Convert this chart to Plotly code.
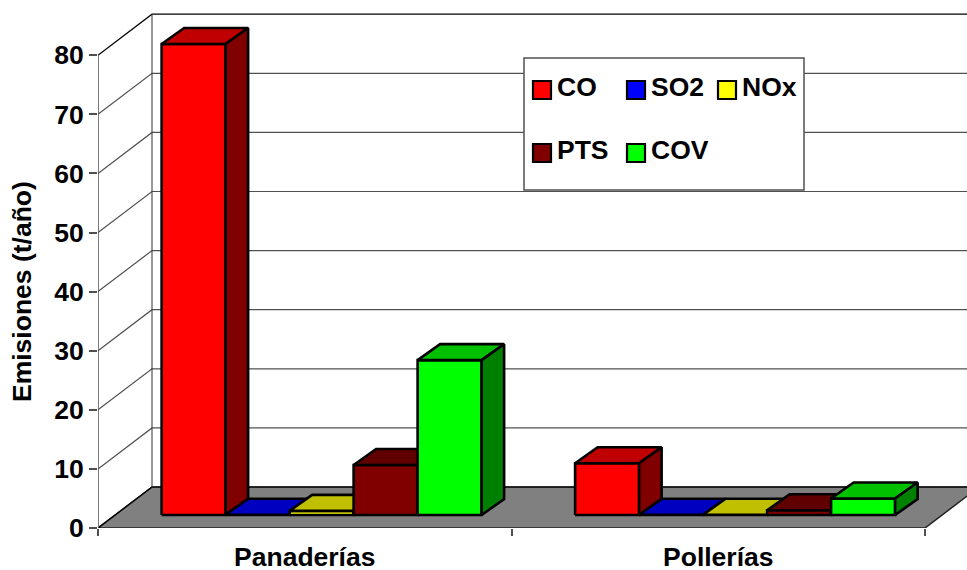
import plotly.graph_objects as go

categories = ["Panaderías", "Pollerías"]
series_names = ["CO", "SO2", "NOx", "PTS", "COV"]
co = [79.7, 8.75]
so2 = [0.05, 0.03]
nox = [0.7, 0.05]
pts = [8.45, 0.8]
cov = [26.2, 2.8]
series_values = [co, so2, nox, pts, cov]
y_ticks = [0, 10, 20, 30, 40, 50, 60, 70, 80]

front_colors = ["#FF0000", "#0000FF", "#FFFF00", "#800000", "#00FF00"]
top_colors = ["#C00000", "#0000C0", "#C0C000", "#600000", "#00C000"]
side_colors = ["#800000", "#000080", "#808000", "#400000", "#008000"]

W, H = 967, 570
L, T, B = 98, 10, 42
CAT_PX = 413.5
UNIT_PX = 5.91
DX, DY = 54 / CAT_PX, 41 / UNIT_PX
FRONT = 13 / 41
BAR_DX = 22.5 / 54
BAR_DY = 16 / 41
GAP, BW = 46.5 / CAT_PX, 64 / CAT_PX
YMAX = 80 + DY
x_top = (W - L) / CAT_PX
y_top = (H - T - B) / UNIT_PX

fig = go.Figure()


def poly(xs, ys, fill=None, color="black", width=1, name=None):
    kw = {}
    if fill:
        kw = dict(fill="toself", fillcolor=fill)
    fig.add_trace(go.Scatter(x=xs, y=ys, mode="lines", line=dict(color=color, width=width, simplify=False),
                             showlegend=False, hoverinfo="skip", cliponaxis=False, name=name, **kw))


# floor
poly([0, 2, 2 + DX, DX, 0], [0, 0, DY, DY, 0], fill="#808080", color="#202020", width=1.5)
# back wall gridlines, left-wall diagonals
for v in y_ticks:
    poly([0, DX, x_top + 0.1], [v, v + DY, v + DY],
         color="#000000" if v in (0, 80) else "#505050", width=1.2)
poly([DX, DX], [DY, YMAX], color="#303030", width=1)
poly([0, 0], [0, 80], color="#505050", width=1.5)

# bars
for c in range(len(categories)):
    for s, vals in enumerate(series_values):
        v = vals[c]
        x0 = c + DX * FRONT + GAP + s * BW
        x1 = x0 + BW
        y0 = DY * FRONT
        y1 = y0 + v
        dx, dy = DX * BAR_DX, DY * BAR_DY
        poly([x0, x1, x1, x0, x0], [y0, y0, y1, y1, y0], fill=front_colors[s], width=2.6, name=series_names[s])
        poly([x0, x1, x1 + dx, x0 + dx, x0], [y1, y1, y1 + dy, y1 + dy, y1], fill=top_colors[s], width=2.6)
        poly([x1, x1 + dx, x1 + dx, x1, x1], [y0, y0 + dy, y1 + dy, y1, y0], fill=side_colors[s], width=2.6)

FONT = "Liberation Sans, Arial, sans-serif"
SIZE = 26.5
shapes = []
annotations = []


def px(x):
    return (x - L) / (W - L)


def py(y):
    return 1 - (y - T) / (H - T - B)


shapes.append(dict(type="rect", xref="paper", yref="paper", x0=px(524), x1=px(804), y0=py(190), y1=py(58),
                   fillcolor="white", line=dict(color="#505050", width=1.5), layer="above"))
positions = [(533, 81), (627, 81), (718, 81), (533, 144), (627, 144)]
for name, color, (sx, sy) in zip(series_names, front_colors, positions):
    shapes.append(dict(type="rect", xref="paper", yref="paper", x0=px(sx), x1=px(sx + 18), y0=py(sy + 18), y1=py(sy),
                       fillcolor=color, line=dict(color="black", width=2.2), layer="above"))
    annotations.append(dict(xref="paper", yref="paper", x=px(sx + 22), y=py(sy + 6), text=f"<b>{name}</b>",
                            showarrow=False, xanchor="left", yanchor="middle",
                            font=dict(family=FONT, size=SIZE, color="black")))
annotations.append(dict(xref="paper", yref="paper", x=px(22), y=py(292), text="<b>Emisiones (t/año)</b>",
                        textangle=-90, showarrow=False, xanchor="center", yanchor="middle",
                        font=dict(family=FONT, size=SIZE, color="black")))

fig.update_layout(
    width=W, height=H, autosize=False,
    margin=dict(l=L, r=0, t=T, b=B, pad=0, autoexpand=False),
    paper_bgcolor="white", plot_bgcolor="white", showlegend=False,
    font=dict(family=FONT, color="black"),
    shapes=shapes, annotations=annotations,
    xaxis=dict(range=[0, x_top], automargin=False, tickmode="array", tickvals=[0.5, 1.5],
               ticktext=[f"<b>{c}</b>" for c in categories],
               ticks="", showgrid=False, zeroline=False, showline=False,
               tickfont=dict(family=FONT, size=SIZE, color="black"), ticklabelstandoff=10,
               minor=dict(tickmode="array", tickvals=[0, 1, 2], ticks="outside", ticklen=7, tickwidth=1.5,
                          tickcolor="#505050", showgrid=False)),
    yaxis=dict(range=[0, y_top], automargin=False, tickmode="array", tickvals=y_ticks,
               ticktext=[f"<b>{t}</b>" for t in y_ticks],
               ticks="outside", ticklen=8, tickwidth=1.5, tickcolor="#505050", showgrid=False, zeroline=False,
               showline=False, tickfont=dict(family=FONT, size=SIZE, color="black")),
)
fig.write_html("out.html", config={"displayModeBar": False},
               post_script="document.body.style.margin='0';document.body.style.overflow='hidden';")
